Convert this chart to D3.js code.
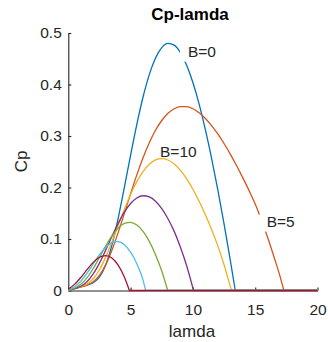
<!DOCTYPE html>
<html><head><meta charset="utf-8">
<script src="https://cdn.jsdelivr.net/npm/d3@7"></script>
<style>
html,body{margin:0;padding:0;background:#fff;}
svg{display:block;font-family:"Liberation Sans",Arial,Helvetica,sans-serif;}
</style>
</head><body>
<svg id="chart" width="328" height="342"></svg>
<script>
// ---- data ----
const lam0 = [0,0.5,1,1.5,2,2.5,3,3.5,4,4.5,5,5.5,6,6.5,7,7.5,8,8.5,9,9.5,10,10.5,11,11.5,12,12.5,13,13.4,20];
const cp0  = [0,0.0034,0.0068,0.0103,0.0151,0.0261,0.0496,0.0882,0.1401,0.2003,0.2629,0.3227,0.3757,0.4191,0.4513,0.4716,0.4798,0.4764,0.4620,0.4375,0.4038,0.3618,0.3125,0.2567,0.1954,0.1293,0.0590,0,0];
const lam5 = [0,0.5,1,1.5,2,2.5,3,3.5,4,4.5,5,5.5,6,6.5,7,7.5,8,8.5,9,9.5,10,10.5,11,11.5,12,12.5,13,13.5,14,14.5,15,15.5,16,16.5,17,17.3,20];
const cp5  = [0,0.0034,0.0068,0.0106,0.0170,0.0293,0.0497,0.0780,0.1123,0.1498,0.1880,0.2245,0.2578,0.2869,0.3111,0.3301,0.3440,0.3530,0.3572,0.3570,0.3529,0.3451,0.3341,0.3203,0.3039,0.2854,0.2649,0.2427,0.2191,0.1944,0.1680,0.1370,0.1030,0.0660,0.0270,0,0];
const lam10 = [0,0.5,1,1.5,2,2.5,3,3.5,4,4.5,5,5.5,6,6.5,7,7.5,8,8.5,9,9.5,10,10.5,11,11.5,12,12.5,13,13.1,20];
const cp10  = [0,0.0034,0.0070,0.0125,0.0229,0.0403,0.0648,0.0943,0.1261,0.1575,0.1864,0.2113,0.2310,0.2451,0.2535,0.2561,0.2534,0.2457,0.2333,0.2169,0.1967,0.1732,0.1470,0.1183,0.0866,0.0500,0.0080,0,0];
const lam15 = [0,0.5,1,1.5,2,2.5,3,3.5,4,4.5,5,5.5,6,6.5,7,7.5,8,8.5,9,9.5,10.05,20];
const cp15  = [0,0.0035,0.0083,0.0171,0.0321,0.0531,0.0784,0.1050,0.1304,0.1522,0.1689,0.1796,0.1840,0.1818,0.1734,0.1590,0.1394,0.1148,0.0840,0.0480,0,0];
const lam20 = [0,0.5,1,1.5,2,2.5,3,3.5,4,4.5,5,5.5,6,6.5,7,7.5,7.98,20];
const cp20  = [0.0001,0.0044,0.0119,0.0246,0.0427,0.0642,0.0862,0.1059,0.1211,0.1302,0.1323,0.1271,0.1147,0.0954,0.0696,0.0380,0,0];
const lam25 = [0,0.5,1,1.5,2,2.5,3,3.5,4,4.5,5,5.5,6,6.2,20];
const cp25  = [0.0006,0.0071,0.0180,0.0335,0.0516,0.0695,0.0840,0.0931,0.0949,0.0888,0.0745,0.0521,0.0200,0,0];
const lam30 = [0,0.5,1,1.5,2,2.5,3,3.5,4,4.5,4.9,20];
const cp30  = [0.0026,0.0119,0.0252,0.0405,0.0546,0.0645,0.0679,0.0630,0.0491,0.0260,0,0];

const seriesNames = ["B=0","B=5","B=10","B=15","B=20","B=25","B=30"];
const xTicks = [0,5,10,15,20];
const yTicks = [0,0.1,0.2,0.3,0.4,0.5];
const labelText = ["B=0","B=5","B=10"];
const labelLam  = [9.6,15.92,7.36];
const labelCp   = [0.465,0.135,0.271];
const titleText = "Cp-lamda";
const xLabelText = "lamda";
const yLabelText = "Cp";

// ---- drawing ----
const lamList = [lam0,lam5,lam10,lam15,lam20,lam25,lam30];
const cpList  = [cp0,cp5,cp10,cp15,cp20,cp25,cp30];
const colors = ["#0072BD","#D95319","#EDB120","#7E2F8E","#77AC30","#4DBEEE","#A2142F"];
const ink = "#262626";

const svg = d3.select("#chart");
const x = d3.scaleLinear().domain([0,20]).range([68.3,317.5]);
const y = d3.scaleLinear().domain([0,0.5]).range([290.5,33]);

const gx = svg.append("g").attr("transform",`translate(0,${y(0)})`)
  .call(d3.axisBottom(x).tickValues(xTicks).tickFormat(d3.format("d")).tickSize(-3).tickSizeOuter(0).tickPadding(13.5));
const gy = svg.append("g").attr("transform",`translate(${x(0)},0)`)
  .call(d3.axisLeft(y).tickValues(yTicks).tickFormat(d => d === 0 ? "0" : d3.format(".1f")(d)).tickSize(-3).tickSizeOuter(0).tickPadding(6.5));
[gx,gy].forEach(g => {
  g.select(".domain").attr("stroke",ink).attr("stroke-width",1.1);
  g.selectAll(".tick line").attr("stroke",ink).attr("stroke-width",1.1);
  g.selectAll(".tick text").attr("fill",ink).style("font-size","15.5px").style("font-family",'"Liberation Sans",Arial,sans-serif');
});

const lineGen = d3.line().x(d => x(d[0])).y(d => y(d[1])).curve(d3.curveMonotoneX);
seriesNames.forEach((name,i) => {
  const pts = lamList[i].map((l,j) => [l, cpList[i][j]]);
  const curvePts = pts.slice(0, pts.length-1);
  const last = pts[pts.length-1];
  const d = lineGen(curvePts) + `L${x(last[0])},${y(last[1])}`;
  svg.append("path").attr("d",d).attr("fill","none")
    .attr("stroke",colors[i]).attr("stroke-width",1.3)
    .attr("stroke-linejoin","round").attr("data-name",name);
});

// labels with white backgrounds (as in the reference)
labelText.forEach((t,i) => {
  const g = svg.append("g");
  const rect = g.append("rect").attr("fill","#fff");
  const txt = g.append("text").attr("x",x(labelLam[i])).attr("y",y(labelCp[i]))
    .attr("dy","0.36em").attr("fill",ink).style("font-size","15.5px").text(t);
  if (i < 2) {
    const bb = txt.node().getBBox();
    rect.attr("x",bb.x-8).attr("y",bb.y+2).attr("width",8).attr("height",bb.height);
  }
});

svg.append("text").attr("x",190).attr("y",20).attr("text-anchor","middle")
  .attr("fill","#000").style("font-size","17px").style("font-weight","bold").text(titleText);
svg.append("text").attr("x",192).attr("y",337).attr("text-anchor","middle")
  .attr("fill",ink).style("font-size","17px").text(xLabelText);
svg.append("text").attr("transform","translate(27,161.5) rotate(-90)").attr("text-anchor","middle")
  .attr("fill",ink).style("font-size","17px").text(yLabelText);
</script>
</body></html>
